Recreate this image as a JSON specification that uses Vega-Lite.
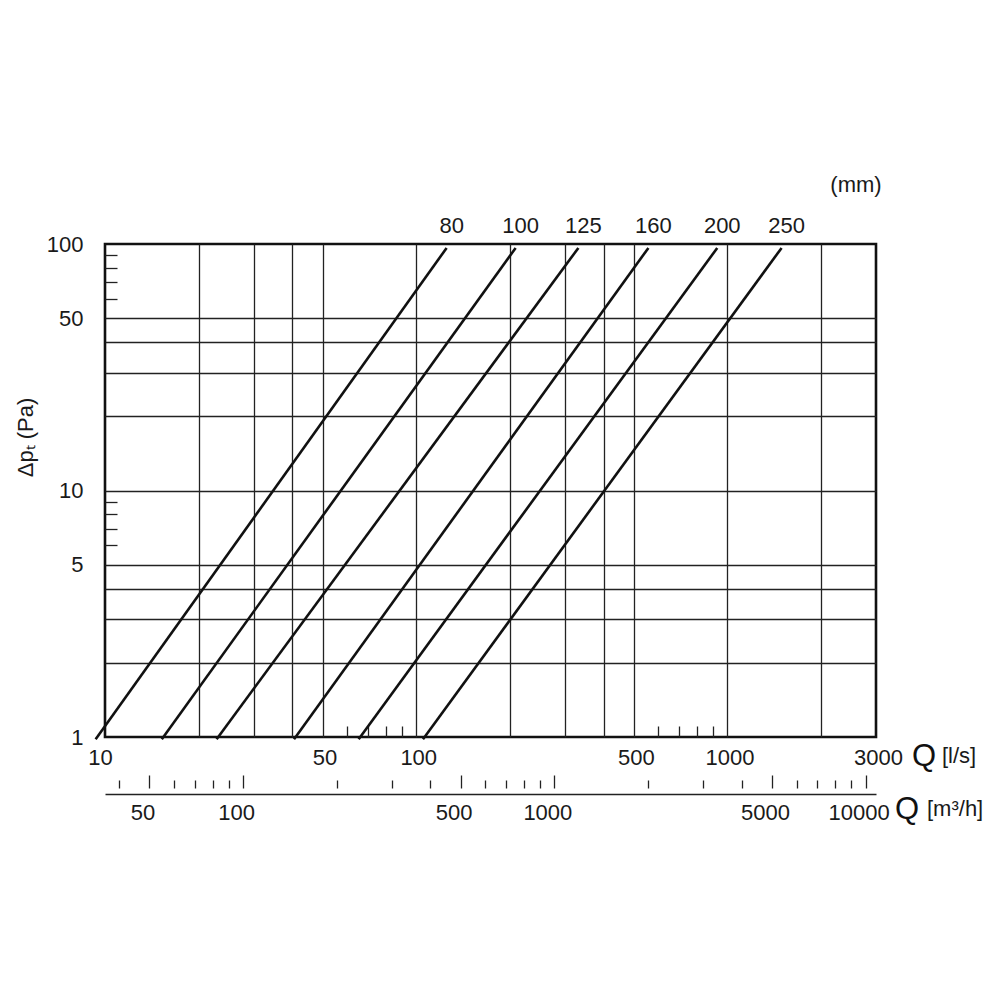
{
  "$schema": "https://vega.github.io/schema/vega-lite/v6.json",
  "width": 771,
  "height": 493,
  "autosize": "none",
  "padding": {"left": 105, "top": 244, "right": 124, "bottom": 263},
  "background": "white",
  "config": {
    "view": {"stroke": "#111", "strokeWidth": 2.6},
    "font": "Liberation Sans",
    "text": {"font": "Liberation Sans", "color": "#1a1a1a"}
  },
  "datasets": {
    "lines": [
      {"d": "80", "Q": 9.33, "dp": 0.98},
      {"d": "80", "Q": 125.2, "dp": 96.4},
      {"d": "100", "Q": 15.22, "dp": 0.98},
      {"d": "100", "Q": 208.6, "dp": 96.4},
      {"d": "125", "Q": 22.83, "dp": 0.98},
      {"d": "125", "Q": 331.8, "dp": 96.4},
      {"d": "160", "Q": 40.48, "dp": 0.98},
      {"d": "160", "Q": 557, "dp": 96.4},
      {"d": "200", "Q": 65.3, "dp": 0.98},
      {"d": "200", "Q": 927, "dp": 96.4},
      {"d": "250", "Q": 105.1, "dp": 0.98},
      {"d": "250", "Q": 1492, "dp": 96.4}
    ]
  },
  "layer": [
    {
      "layer": [
        {
          "data": {"name": "lines"},
          "mark": {"type": "line", "color": "#111", "strokeWidth": 2.6},
          "encoding": {
            "x": {
              "field": "Q", "type": "quantitative",
              "scale": {"type": "log", "domain": [10, 3000], "nice": false},
              "axis": {
                "values": [10,20,30,40,50,60,70,80,90,100,200,300,400,500,600,700,800,900,1000,2000,3000],
                "title": null,
                "domain": false,
                "grid": true,
                "gridColor": "#222",
                "gridWidth": 1.3,
                "gridOpacity": {"condition": {"test": "indexof([20,30,40,50,100,200,300,400,500,1000,2000], datum.value) >= 0", "value": 1}, "value": 0},
                "ticks": true,
                "tickColor": "#222",
                "tickWidth": 1.3,
                "tickSize": {"condition": {"test": "indexof([60,70,80,90,600,700,800,900], datum.value) >= 0", "value": -11}, "value": 0},
                "labelExpr": "indexof([10,50,100,500,1000,3000], datum.value) >= 0 ? format(datum.value, 'd') : ''",
                "labelOffset": {"condition": {"test": "datum.value == 10", "value": -5}, "value": 2},
                "labelFont": "Liberation Sans",
                "labelFontSize": 22,
                "labelColor": "#1a1a1a",
                "labelPadding": 10,
                "labelOverlap": false,
                "labelFlush": false,
                "labelBound": false
              }
            },
            "y": {
              "field": "dp", "type": "quantitative",
              "scale": {"type": "log", "domain": [1, 100], "nice": false},
              "axis": {
                "values": [1,2,3,4,5,6,7,8,9,10,20,30,40,50,60,70,80,90,100],
                "title": "Δpₜ (Pa)",
                "titleFont": "Liberation Sans",
                "titleFontSize": 22,
                "titleFontWeight": "normal",
                "titleColor": "#1a1a1a",
                "titleX": -80,
                "titleY": 193,
                "titleAngle": 270,
                "titleAlign": "center",
                "titleBaseline": "middle",
                "domain": false,
                "grid": true,
                "gridColor": "#222",
                "gridWidth": 1.3,
                "gridOpacity": {"condition": {"test": "indexof([2,3,4,5,10,20,30,40,50], datum.value) >= 0", "value": 1}, "value": 0},
                "ticks": true,
                "tickColor": "#222",
                "tickWidth": 1.3,
                "tickSize": {"condition": {"test": "indexof([6,7,8,9,60,70,80,90], datum.value) >= 0", "value": -12}, "value": 0},
                "labelExpr": "indexof([1,5,10,50,100], datum.value) >= 0 ? format(datum.value, 'd') : ''",
                "labelFont": "Liberation Sans",
                "labelFontSize": 22,
                "labelColor": "#1a1a1a",
                "labelPadding": 22,
                "labelOverlap": false,
                "labelFlush": false,
                "labelBound": false
              }
            },
            "detail": {"field": "d"}
          }
        },
        {
          "data": {"name": "lines"},
          "transform": [{"filter": "datum.dp > 50"}],
          "mark": {"type": "text", "dx": 5, "dy": -22, "fontSize": 22, "align": "center", "baseline": "middle"},
          "encoding": {
            "x": {"field": "Q", "type": "quantitative"},
            "y": {"field": "dp", "type": "quantitative"},
            "text": {"field": "d"}
          }
        },
        {
          "data": {"values": [{"t": "(mm)"}]},
          "mark": {"type": "text", "dx": -20, "dy": -59, "fontSize": 22, "align": "center", "baseline": "middle"},
          "encoding": {
            "x": {"datum": 3000, "type": "quantitative"},
            "y": {"datum": 100, "type": "quantitative"},
            "text": {"field": "t"}
          }
        },
        {
          "data": {"values": [{"t": "Q"}]},
          "mark": {"type": "text", "dx": 36, "dy": 20, "fontSize": 31, "align": "left", "baseline": "middle", "color": "#111"},
          "encoding": {
            "x": {"datum": 3000, "type": "quantitative"},
            "y": {"datum": 1, "type": "quantitative"},
            "text": {"field": "t"}
          }
        },
        {
          "data": {"values": [{"t": "[l/s]"}]},
          "mark": {"type": "text", "dx": 66, "dy": 19, "fontSize": 22, "align": "left", "baseline": "middle"},
          "encoding": {
            "x": {"datum": 3000, "type": "quantitative"},
            "y": {"datum": 1, "type": "quantitative"},
            "text": {"field": "t"}
          }
        }
      ]
    },
    {
      "data": {"values": [{"t": "Q"}]},
      "mark": {"type": "text", "dx": 19, "dy": 73, "fontSize": 31, "align": "left", "baseline": "middle", "color": "#111"},
      "encoding": {
        "x": {
          "datum": 10800, "type": "quantitative",
          "scale": {"type": "log", "domain": [36, 10800], "nice": false},
          "axis": {
            "orient": "bottom",
            "offset": 57,
            "values": [50, 100, 500, 1000, 5000, 10000],
            "title": null,
            "grid": false,
            "domain": true,
            "domainColor": "#222",
            "domainWidth": 1.3,
            "ticks": false,
            "tickSize": 0,
            "format": "d",
            "labelFont": "Liberation Sans",
            "labelFontSize": 22,
            "labelColor": "#1a1a1a",
            "labelPadding": 8,
            "labelOffset": -7,
            "labelOverlap": false,
            "labelFlush": false,
            "labelBound": false
          }
        },
        "y": {"datum": 1, "type": "quantitative"},
        "text": {"field": "t"}
      }
    },
    {
      "data": {"values": [{"t": "[m³/h]"}]},
      "mark": {"type": "text", "dx": 51, "dy": 72, "fontSize": 22, "align": "left", "baseline": "middle"},
      "encoding": {
        "x": {
          "datum": 10800, "type": "quantitative",
          "scale": {"type": "log", "domain": [36, 10800], "nice": false},
          "axis": {
            "orient": "bottom",
            "offset": 51,
            "values": [40,50,60,70,80,90,100,200,300,400,500,600,700,800,900,1000,2000,3000,4000,5000,6000,7000,8000,9000,10000],
            "title": null,
            "grid": false,
            "domain": false,
            "labels": false,
            "ticks": true,
            "tickColor": "#222",
            "tickWidth": 1.3,
            "tickSize": {"condition": {"test": "indexof([50,100,500,1000,5000,10000], datum.value) >= 0", "value": -13}, "value": -8}
          }
        },
        "y": {"datum": 1, "type": "quantitative"},
        "text": {"field": "t"}
      }
    }
  ],
  "resolve": {"scale": {"x": "independent"}}
}
